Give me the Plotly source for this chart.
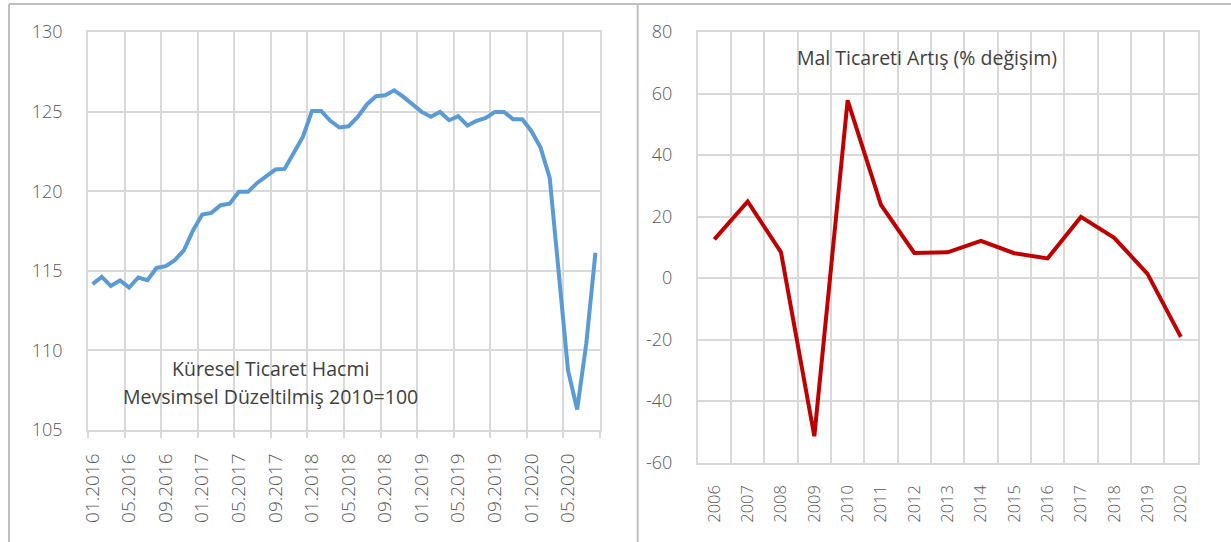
import plotly.graph_objects as go

# ---------------- data ----------------
months = [f"{m:02d}.{y}" for y in range(2016, 2021) for m in range(1, 13)][:56]
trade_volume = [114.16, 114.62, 114.05, 114.4, 113.95, 114.58, 114.41, 115.18, 115.29, 115.67,
                116.3, 117.55, 118.53, 118.64, 119.12, 119.22, 119.96, 119.96, 120.52, 120.94,
                121.36, 121.4, 122.45, 123.41, 125.04, 125.04, 124.42, 124.0, 124.08, 124.67,
                125.45, 125.97, 126.03, 126.34, 125.92, 125.46, 124.98, 124.67, 124.98, 124.46,
                124.72, 124.12, 124.42, 124.61, 124.98, 124.98, 124.52, 124.52, 123.77, 122.74,
                120.84, 114.8, 108.76, 106.29, 110.43, 116.13]
years = [str(y) for y in range(2006, 2021)]
goods_growth = [12.6, 24.9, 8.4, -51.4, 57.8, 23.8, 8.2, 8.4, 12.1, 8.1, 6.4, 19.9, 13.1, 1.4, -19.1]
right_yticks = [-60, -40, -20, 0, 20, 40, 60, 80]

left_title = ["Küresel Ticaret Hacmi", "Mevsimsel Düzeltilmiş 2010=100"]
right_title = "Mal Ticareti Artış (% değişim)"

# ---------------- style ----------------
W, H = 1231, 542
GRID = "#d9d9d9"
TICKC = "#595959"
TXT = "#404040"
FONT = "Open Sans, Noto Sans, sans-serif"

def px(x):
    return x / W

def py(y):
    return 1 - y / H

L_dom_x = [px(88), px(600)]
L_dom_y = [py(430), py(32)]
R_dom_x = [px(697.7), px(1197.5)]
R_dom_y = [py(462.7), py(32)]

idx_m = list(range(len(months)))
idx_y = list(range(len(years)))

fig = go.Figure()
fig.add_trace(go.Scatter(x=idx_m, y=trade_volume, mode="lines", xaxis="x", yaxis="y",
                         line=dict(color="#5b9bd5", width=4), showlegend=False, hoverinfo="skip"))
fig.add_trace(go.Scatter(x=idx_y, y=goods_growth, mode="lines", xaxis="x2", yaxis="y2",
                         line=dict(color="#c00000", width=4), showlegend=False, hoverinfo="skip"))

tick_font_x = dict(family=FONT, size=19, color=TICKC, weight=300)
tick_font_x2 = dict(family=FONT, size=16.5, color=TICKC, weight=300)
tick_font_y = dict(family=FONT, size=18, color=TICKC, weight=300)
ann_font = dict(family=FONT, size=19.5, color=TXT)

fig.update_layout(
    width=W, height=H, autosize=False,
    margin=dict(l=0, r=0, t=0, b=0, pad=0),
    paper_bgcolor="white", plot_bgcolor="white",
    xaxis=dict(domain=L_dom_x, anchor="y", range=[-0.5, len(months) - 0.5],
               tickmode="array", tickvals=idx_m[::4], ticktext=months[::4],
               tickangle=-90, tickfont=tick_font_x, showgrid=False, zeroline=False,
               ticks="", ticklabelstandoff=14, showline=True, mirror=True,
               linecolor=GRID, linewidth=1.5, automargin=False,
               minor=dict(tickmode="linear", tick0=-0.5, dtick=4, showgrid=True,
                          gridcolor=GRID, gridwidth=1.5, ticks="outside", ticklen=6,
                          tickcolor=GRID, tickwidth=1.5)),
    yaxis=dict(domain=L_dom_y, anchor="x", range=[105, 130], dtick=5,
               tickfont=tick_font_y, showgrid=True, gridcolor=GRID, gridwidth=1.5,
               zeroline=False, ticks="", ticklabelstandoff=20, automargin=False,
               showline=True, mirror=True, linecolor=GRID, linewidth=1.5),
    xaxis2=dict(domain=R_dom_x, anchor="y2", range=[-0.5, len(years) - 0.5],
                tickmode="array", tickvals=idx_y, ticktext=years,
                tickangle=-90, tickfont=tick_font_x2, showgrid=False, zeroline=False,
                ticks="", ticklabelstandoff=14, showline=True, mirror=True,
                linecolor=GRID, linewidth=1.5, automargin=False,
                minor=dict(tickmode="linear", tick0=-0.5, dtick=1, showgrid=True,
                           gridcolor=GRID, gridwidth=1.5, ticks="")),
    yaxis2=dict(domain=R_dom_y, anchor="x2", range=[-60, 80],
                tickmode="array", tickvals=right_yticks, ticktext=[str(v) for v in right_yticks],
                tickfont=tick_font_y, showgrid=True, gridcolor=GRID, gridwidth=1.5,
                zeroline=False, ticks="", ticklabelstandoff=20, automargin=False,
                showline=True, mirror=True, linecolor=GRID, linewidth=1.5),
    annotations=[
        dict(text=left_title[0], x=px(270), y=py(368), xref="paper", yref="paper",
             xanchor="center", yanchor="middle", showarrow=False, font=ann_font),
        dict(text=left_title[1], x=px(270), y=py(396.5), xref="paper", yref="paper",
             xanchor="center", yanchor="middle", showarrow=False, font=ann_font),
        dict(text=right_title, x=px(926.5), y=py(57), xref="paper", yref="paper",
             xanchor="center", yanchor="middle", showarrow=False, font=ann_font),
    ],
    shapes=[
        dict(type="line", xref="paper", yref="paper", x0=px(9), x1=1, y0=py(4), y1=py(4),
             line=dict(color="#bfbfbf", width=2)),
        dict(type="line", xref="paper", yref="paper", x0=px(9), x1=px(9), y0=0, y1=py(4),
             line=dict(color="#bfbfbf", width=2)),
        dict(type="line", xref="paper", yref="paper", x0=px(637.7), x1=px(637.7), y0=0, y1=py(4),
             line=dict(color="#bfbfbf", width=2)),
    ],
)

fig.write_html("out.html", config={"displayModeBar": False},
               post_script="document.body.style.margin='0px';document.body.style.overflow='hidden';")
